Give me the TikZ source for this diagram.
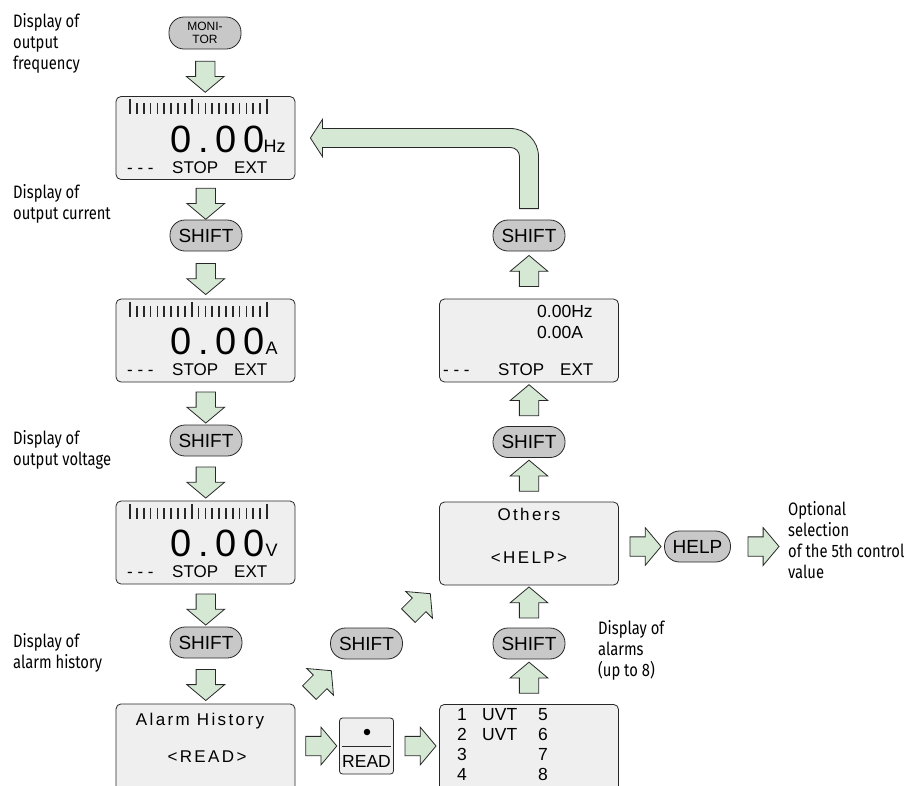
\documentclass[tikz,border=0pt]{standalone}
\usepackage{fontspec}
\setmainfont{Liberation Sans}
\newfontfamily\lblfont[FakeStretch=0.82]{Fira Sans}
\usetikzlibrary{shapes.arrows,calc}
\definecolor{arrowfill}{RGB}{213,232,212}
\definecolor{btnfill}{RGB}{200,200,200}
\definecolor{boxfill}{RGB}{239,239,239}
\definecolor{linecol}{RGB}{40,40,40}
\tikzset{
  blk/.style={single arrow, draw=linecol, fill=arrowfill, line width=0.8pt,
    minimum height=31pt, minimum width=37pt, single arrow head extend=9.25pt,
    single arrow tip angle=100, inner xsep=0pt, inner ysep=9.25pt},
  arrdown/.style={blk, rotate=-90},
  arrup/.style={blk, rotate=90},
  arrright/.style={blk},
  arrdiag/.style={blk, rotate=45},
  btn/.style={draw=linecol, fill=btnfill, line width=0.8pt, rounded corners=15pt,
    minimum width=72pt, minimum height=31pt, inner sep=0pt,
    font=\fontsize{19}{19}\selectfont},
  disp/.style={draw=linecol, fill=boxfill, line width=0.8pt, rounded corners=5pt,
    minimum width=179pt, minimum height=83pt, inner sep=0pt},
  tallbox/.style={disp, minimum height=110pt},
  lbl/.style={anchor=north west, align=left, inner sep=0pt,
    font=\lblfont\fontsize{18}{21}\selectfont},
  txt/.style={inner sep=0pt, font=\fontsize{17.5}{17.5}\selectfont},
  sptxt/.style={inner sep=0pt, font=\fontsize{17}{17}\selectfont\addfontfeature{LetterSpace=14}},
  bottxt/.style={inner sep=0pt, anchor=base west, font=\fontsize{17}{17}\selectfont},
}
\newcommand\lcdcontent[1]{%
  \begin{scope}[shift={(#1.center)}]
    \foreach \i in {0,...,20}{%
      \pgfmathsetmacro\tkx{-75.5+6.85*\i}%
      \pgfmathsetmacro\tky{(\i==0||\i==9||\i==20)?-39:-35}%
      \pgfmathsetmacro\tkw{(\i==0||\i==9||\i==20)?2.2:1.7}%
      \draw[line width=\tkw pt, linecol] (\tkx,\tky) -- (\tkx,-24);
    }
    \node[anchor=base west, inner sep=0pt,
      font=\fontsize{38}{38}\selectfont\addfontfeature{LetterSpace=18}] (#1-num) at (-35.5,14) {0.00};
  \end{scope}}
\newcommand\lcdbottom[4]{%
  \begin{scope}[shift={(#1.center)}]
    \node[bottxt] (#1-dash) at (#2,35) {- - -};
    \node[bottxt] (#1-stop) at (#3,35) {STOP};
    \node[bottxt] (#1-ext) at (#4,35) {EXT};
  \end{scope}}
\begin{document}
\begin{tikzpicture}[x=1pt,y=-1pt]
\useasboundingbox (0,0) rectangle (916,785);
\clip (0,0) rectangle (916,785);

% ---------- left column ----------
\node[btn, font=\fontsize{12}{13}\selectfont, align=center, minimum height=32pt] (mon) at (205,33) {MONI-\\TOR};
\node[disp] (hz) at (205.5,138) {};
\node[btn] (ls1) at (206,235.5) {SHIFT};
\node[disp] (da) at (205.5,340.5) {};
\node[btn] (ls2) at (206,440.5) {SHIFT};
\node[disp] (dv) at (205.5,542.5) {};
\node[btn] (ls3) at (206,642.5) {SHIFT};
\node[tallbox, anchor=north] (ah) at (205.5,703.5) {};

% ---------- right column ----------
\node[btn] (rs1) at (529,235.5) {SHIFT};
\node[disp] (ob) at (529,340.5) {};
\node[btn] (rs2) at (529,442) {SHIFT};
\node[disp] (oth) at (529,543.5) {};
\node[btn] (rs3) at (529,643.5) {SHIFT};
\node[tallbox, anchor=north] (al) at (529,704) {};

% ---------- middle ----------
\node[btn] (ms) at (366.5,643.5) {SHIFT};
\node[draw=linecol, fill=boxfill, line width=0.8pt, rounded corners=3pt,
  minimum width=54pt, minimum height=56pt, inner sep=0pt] (rk) at (366.5,746) {};
\node[circle, fill=black, inner sep=0pt, minimum size=6.5pt] (rkdot) at ($(rk.center)+(0.5,-14)$) {};
\draw[linecol, line width=0.8pt] ($(rk.west)+(3,0)$) -- ($(rk.east)+(-3,0)$);
\node[txt, anchor=base] (rkread) at ($(rk.center)+(0,21)$) {READ};
\node[btn, minimum width=66pt] (help) at (697.5,546.5) {HELP};

% ---------- LCD contents ----------
\lcdcontent{hz}
\node[anchor=base west, inner sep=0pt, font=\fontsize{18}{18}\selectfont] (hz-u) at ($(hz.center)+(58,14)$) {Hz};
\lcdbottom{hz}{-78.5}{-33.5}{28.5}
\lcdcontent{da}
\node[anchor=base west, inner sep=0pt, font=\fontsize{18}{18}\selectfont] (da-u) at ($(da.center)+(60,14)$) {A};
\lcdbottom{da}{-78.5}{-33.5}{28.5}
\lcdcontent{dv}
\node[anchor=base west, inner sep=0pt, font=\fontsize{18}{18}\selectfont] (dv-u) at ($(dv.center)+(60,14)$) {V};
\lcdbottom{dv}{-78.5}{-33.5}{28.5}

% right box
\node[txt, anchor=base west] (ob-1) at ($(ob.center)+(8,-23.5)$) {0.00Hz};
\node[txt, anchor=base west] (ob-2) at ($(ob.center)+(8,-2.5)$) {0.00A};
\lcdbottom{ob}{-86}{-31}{31}

% Others box
\node[sptxt, anchor=base] (oth-1) at ($(oth.center)+(0,-23.5)$) {Others};
\node[sptxt, anchor=base] (oth-2) at ($(oth.center)+(0,19.5)$) {<HELP>};

% Alarm history box
\node[sptxt, anchor=base] (ah-1) at ($(ah.north)+(-5.5,21.5)$) {Alarm History};
\node[sptxt, anchor=base] (ah-2) at ($(ah.north)+(1.5,58.5)$) {<READ>};

% Alarm list
\foreach \r/\a/\b/\c in {0/1/UVT/5, 1/2/UVT/6, 2/3//7, 3/4//8}{
  \node[txt, anchor=base west] (al-a\r) at ($(al.north)+(-72,16+20.2*\r)$) {\a};
  \node[txt, anchor=base west] (al-b\r) at ($(al.north)+(-47,16+20.2*\r)$) {\b};
  \node[txt, anchor=base west] (al-c\r) at ($(al.north)+(9,16+20.2*\r)$) {\c};
}

% ---------- labels ----------
\node[lbl] (l1) at (13,13) {Display of\\output\\frequency};
\node[lbl] (l2) at (13,184) {Display of\\output current};
\node[lbl] (l3) at (13,430) {Display of\\output voltage};
\node[lbl] (l4) at (13,633) {Display of\\alarm history};
\node[lbl] (r1) at (598,620) {Display of\\alarms\\(up to 8)};
\node[lbl] (r2) at (788,501) {Optional\\selection\\of the 5th control\\value};

% ---------- block arrows ----------
\node[arrdown] (a1) at ($(mon.south)!0.5!(hz.north)$) {};
\node[arrdown] (a2) at ($(hz.south)!0.5!(ls1.north)$) {};
\node[arrdown] (a3) at ($(ls1.south)!0.5!(da.north)$) {};
\node[arrdown] (a4) at ($(da.south)!0.5!(ls2.north)$) {};
\node[arrdown] (a5) at ($(ls2.south)!0.5!(dv.north)$) {};
\node[arrdown] (a6) at ($(dv.south)!0.5!(ls3.north)$) {};
\node[arrdown] (a7) at ($(ls3.south)!0.5!(ah.north)$) {};

\node[arrup] (b1) at ($(al.north)!0.5!(rs3.south)$) {};
\node[arrup] (b2) at ($(rs3.north)!0.5!(oth.south)$) {};
\node[arrup] (b3) at ($(oth.north)!0.5!(rs2.south)$) {};
\node[arrup] (b4) at ($(rs2.north)!0.5!(ob.south)$) {};
\node[arrup] (b5) at ($(ob.north)!0.5!(rs1.south)$) {};

\coordinate (m1) at ($(ah.east)!0.5!(rk.west)$);
\node[arrright] (c1) at (m1 |- rk) {};
\coordinate (m2) at ($(rk.east)!0.5!(al.west)$);
\node[arrright] (c2) at (m2 |- rk) {};
\node[arrright] (c3) at ($(oth.east |- help)!0.5!(help.west)$) {};
\coordinate (m4) at (r2.north west |- help);
\node[arrright] (c4) at ($(help.east)!0.5!(m4)$) {};

\node[arrdiag] (d1) at ($(ms)+(-49,41)$) {};
\node[arrdiag] (d2) at ($(ms)+(50,-36)$) {};

% bent arrow from top-right SHIFT back to the Hz display
\coordinate (bend) at (rs1.north |- hz.east);
\draw[draw=linecol, fill=arrowfill, line width=0.8pt]
  ($(rs1.north)+(-9.5,-11)$) -- ($(bend)+(-9.5,18.5)$)
  arc[start angle=0, end angle=-90, radius=9]
  -- ($(hz.east)+(27,9.5)$) -- ($(hz.east)+(27,18.5)$) -- ($(hz.east)+(15,0)$)
  -- ($(hz.east)+(27,-18.5)$) -- ($(hz.east)+(27,-9.5)$)
  -- ($(bend)+(-18.5,-9.5)$)
  arc[start angle=-90, end angle=0, radius=28]
  -- ($(rs1.north)+(9.5,-11)$) -- cycle;
\end{tikzpicture}
\end{document}
